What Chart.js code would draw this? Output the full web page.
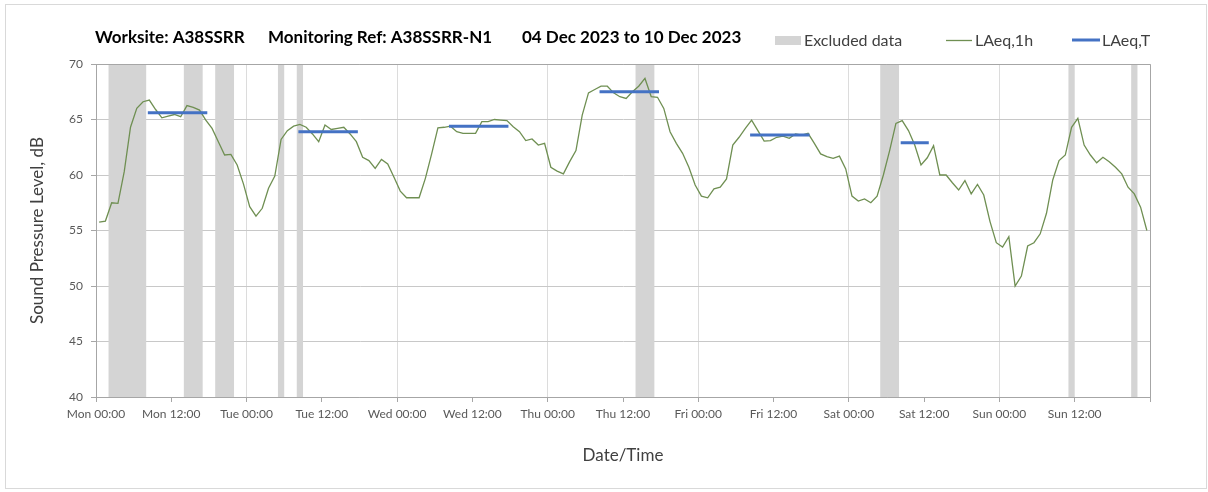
<!DOCTYPE html>
<html>
<head>
<meta charset="utf-8">
<script src="https://cdn.jsdelivr.net/npm/chart.js@4.4.1/dist/chart.umd.min.js"></script>
<style>
  html, body { margin: 0; padding: 0; background: #fff; }
  #frame { position: absolute; left: 5px; top: 4px; width: 1200px; height: 483px; border: 1px solid #d9d9d9; }
  #wrap { position: absolute; left: 0; top: 0; width: 1208px; height: 492px; }
</style>
</head>
<body>
<div id="frame"></div>
<div id="wrap"><canvas id="noiseChart" width="1208" height="492"></canvas></div>
<script>
// hourly LAeq,1h from Mon 00:00 to Sun 23:00 (one value per hour)
const hourlyLevels = [
  55.75, 55.85, 57.5, 57.45, 60.3, 64.3, 66.0, 66.6, 66.75, 65.9, 65.15, 65.3,
  65.45, 65.25, 66.25, 66.1, 65.85, 64.95, 64.2, 63.0, 61.8, 61.85, 60.9, 59.2,
  57.15, 56.3, 57.0, 58.8, 59.9, 63.2, 64.0, 64.4, 64.55, 64.3, 63.7, 63.0,
  64.5, 64.1, 64.2, 64.3, 63.7, 63.0, 61.6, 61.3, 60.6, 61.4, 61.0, 59.8,
  58.55, 57.95, 57.95, 57.95, 59.7, 61.9, 64.25, 64.3, 64.4, 63.9, 63.75, 63.75,
  63.75, 64.8, 64.8, 65.0, 64.95, 64.9, 64.35, 63.9, 63.1, 63.25, 62.7, 62.85,
  60.7, 60.35, 60.1, 61.2, 62.2, 65.4, 67.4, 67.7, 68.0, 68.0, 67.4, 67.05,
  66.9, 67.5, 68.0, 68.7, 67.05, 67.0, 66.0, 63.9, 62.85, 61.95, 60.7, 59.1,
  58.1, 57.95, 58.75, 58.9, 59.65, 62.7, 63.4, 64.2, 64.95, 64.0, 63.05, 63.1,
  63.4, 63.5, 63.3, 63.7, 63.6, 63.75, 62.85, 61.9, 61.65, 61.5, 61.7, 60.55,
  58.1, 57.65, 57.85, 57.5, 58.1, 60.0, 62.2, 64.65, 64.9, 64.0, 62.7, 60.9,
  61.55, 62.65, 60.0, 60.0, 59.3, 58.65, 59.5, 58.3, 59.15, 58.2, 55.8, 53.9,
  53.5, 54.45, 50.0, 50.9, 53.6, 53.9, 54.7, 56.55, 59.55, 61.3, 61.8, 64.3,
  65.1, 62.7, 61.8, 61.1, 61.6, 61.2, 60.7, 60.1, 58.9, 58.3, 57.1, 55.0
];

// LAeq,T periods (hours from Mon 00:00)
const periodStart = [8, 32, 56, 80, 104, 128];
const periodEnd = [18, 42, 66, 90, 114, 133];
const periodLevel = [65.6, 63.9, 64.4, 67.5, 63.6, 62.9];

// excluded data (hours from Mon 00:00)
const excludedStart = [2, 14, 19, 29, 32, 86, 125, 155, 165];
const excludedEnd = [8, 17, 22, 30, 33, 89, 128, 156, 166];

const tickLabels = [
  "Mon 00:00", "Mon 12:00", "Tue 00:00", "Tue 12:00", "Wed 00:00", "Wed 12:00",
  "Thu 00:00", "Thu 12:00", "Fri 00:00", "Fri 12:00", "Sat 00:00", "Sat 12:00",
  "Sun 00:00", "Sun 12:00", ""
];

const titleParts = ["Worksite: A38SSRR", "Monitoring Ref: A38SSRR-N1", "04 Dec 2023 to 10 Dec 2023"];

const FONT = 'Lato, "Open Sans", sans-serif';
Chart.defaults.font.family = FONT;

const hourlyPoints = hourlyLevels.map((v, i) => ({ x: i + 0.5, y: v }));
const periodPoints = [];
periodStart.forEach((s, i) => {
  periodPoints.push({ x: s + 0.5, y: periodLevel[i] });
  periodPoints.push({ x: periodEnd[i] - 0.5, y: periodLevel[i] });
  periodPoints.push({ x: periodEnd[i], y: null });
});

// grey bands for excluded hours
const excludedBands = {
  id: "excludedBands",
  beforeDatasetsDraw(chart) {
    const { ctx, chartArea, scales } = chart;
    ctx.save();
    ctx.fillStyle = "#d4d4d4";
    excludedStart.forEach((s, i) => {
      const x1 = scales.x.getPixelForValue(s);
      const x2 = scales.x.getPixelForValue(excludedEnd[i]);
      ctx.fillRect(x1, chartArea.top, x2 - x1, chartArea.bottom - chartArea.top);
    });
    ctx.restore();
  },
};

const plotFrame = {
  id: "plotFrame",
  afterDraw(chart) {
    const { ctx, chartArea } = chart;
    ctx.save();
    ctx.strokeStyle = "#a6a6a6";
    ctx.lineWidth = 1;
    ctx.beginPath();
    ctx.moveTo(chartArea.left, Math.round(chartArea.top) + 0.5);
    ctx.lineTo(Math.round(chartArea.right) + 0.5, Math.round(chartArea.top) + 0.5);
    ctx.lineTo(Math.round(chartArea.right) + 0.5, chartArea.bottom);
    ctx.stroke();
    ctx.restore();
  },
};

// title on the left, legend on the right of the same row
const header = {
  id: "header",
  afterDraw(chart) {
    const ctx = chart.ctx;
    ctx.save();
    ctx.textBaseline = "alphabetic";
    ctx.fillStyle = "#000";
    ctx.font = "bold 17px " + FONT;
    const titleX = [95, 268, 522];
    titleParts.forEach((t, i) => ctx.fillText(t, titleX[i], 43));

    ctx.font = "16px " + FONT;
    ctx.fillStyle = "#d4d4d4";
    ctx.fillRect(775, 36, 26, 9);
    ctx.fillStyle = "#404040";
    ctx.fillText("Excluded data", 804, 46);

    ctx.strokeStyle = "#6f8f52";
    ctx.lineWidth = 1.3;
    ctx.beginPath();
    ctx.moveTo(946, 40.5);
    ctx.lineTo(972, 40.5);
    ctx.stroke();
    ctx.fillText("LAeq,1h", 975, 46);

    ctx.strokeStyle = "#4472c4";
    ctx.lineWidth = 3;
    ctx.beginPath();
    ctx.moveTo(1072, 40);
    ctx.lineTo(1100, 40);
    ctx.stroke();
    ctx.fillText("LAeq,T", 1102, 46);
    ctx.restore();
  },
};

const chartCtx = document.getElementById("noiseChart").getContext("2d");

new Chart(chartCtx, {
  type: "line",
  data: {
    datasets: [
      {
        label: "LAeq,T",
        data: periodPoints,
        borderColor: "#4472c4",
        borderWidth: 3,
        borderCapStyle: "square",
        pointRadius: 0,
        spanGaps: false,
        order: 0,
      },
      {
        label: "LAeq,1h",
        data: hourlyPoints,
        borderColor: "#6f8f52",
        borderWidth: 1.3,
        pointRadius: 0,
        tension: 0,
        order: 1,
      },
    ],
  },
  options: {
    responsive: false,
    animation: false,
    devicePixelRatio: 1,
    layout: { padding: { top: 64, right: 58, bottom: 0, left: 0 } },
    plugins: {
      legend: { display: false },
      title: { display: false },
      tooltip: { enabled: false },
    },
    scales: {
      x: {
        type: "linear",
        min: 0,
        max: 168,
        afterFit(scale) {
          scale.height = 95;
        },
        ticks: {
          stepSize: 12,
          autoSkip: false,
          maxRotation: 0,
          padding: 5,
          color: "#595959",
          font: { size: 12 },
          callback: (value, index) => tickLabels[index] ?? "",
        },
        grid: {
          color: (c) => (c.tick && c.tick.value % 24 === 0 ? "#dcdcdc" : "rgba(0,0,0,0)"),
          tickColor: "#a6a6a6",
          tickLength: 5,
        },
        border: { color: "#a6a6a6" },
        title: {
          display: true,
          text: "Date/Time",
          color: "#404040",
          font: { size: 17 },
          padding: { top: 0, bottom: 26 },
        },
      },
      y: {
        min: 40,
        max: 70,
        afterFit(scale) {
          scale.width = 96;
        },
        ticks: {
          stepSize: 5,
          padding: 8,
          color: "#595959",
          font: { size: 12 },
        },
        grid: {
          color: "#c8c8c8",
          tickColor: "#a6a6a6",
          tickLength: 5,
        },
        border: { color: "#a6a6a6" },
        title: {
          display: true,
          text: "Sound Pressure Level, dB",
          color: "#404040",
          font: { size: 17 },
          padding: { top: 27, bottom: 0 },
        },
      },
    },
  },
  plugins: [excludedBands, plotFrame, header],
});
</script>
</body>
</html>
